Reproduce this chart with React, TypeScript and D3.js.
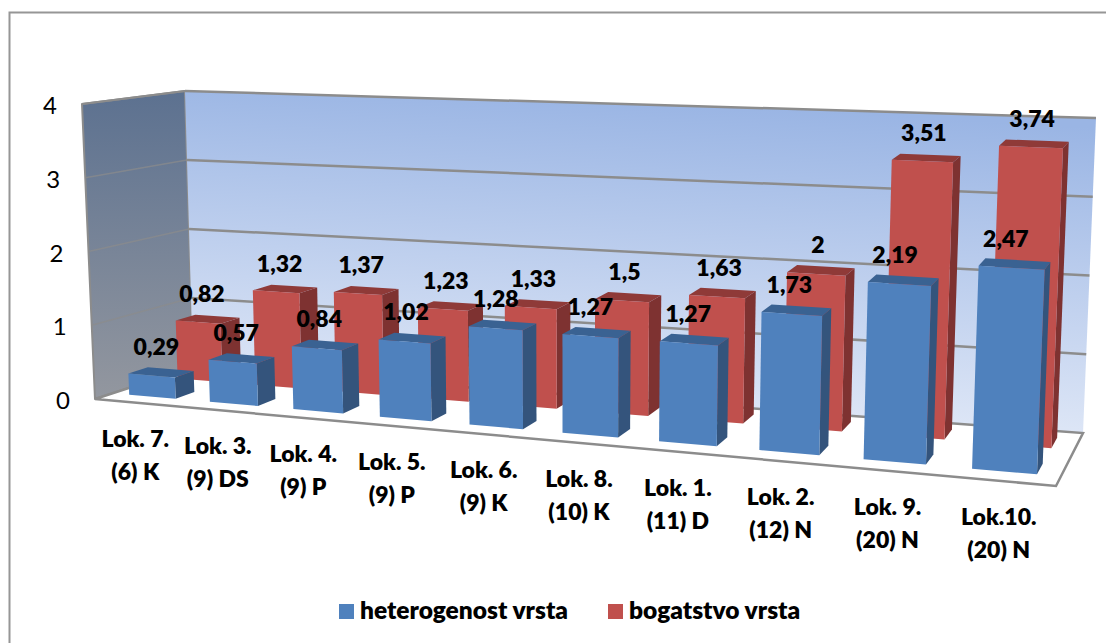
import React from "react";
import * as d3 from "d3";

const categories = ["Lok. 7.", "Lok. 3.", "Lok. 4.", "Lok. 5.", "Lok. 6.", "Lok. 8.", "Lok. 1.", "Lok. 2.", "Lok. 9.", "Lok.10."];
const subLabels = ["(6) K", "(9) DS", "(9) P", "(9) P", "(9) K", "(10) K", "(11) D", "(12) N", "(20) N", "(20) N"];
const heterogenost = [0.29, 0.57, 0.84, 1.02, 1.28, 1.27, 1.27, 1.73, 2.19, 2.47];
const bogatstvo = [0.82, 1.32, 1.37, 1.23, 1.33, 1.5, 1.63, 2, 3.51, 3.74];
const valueTicks = [0, 1, 2, 3, 4];

const BLUE = { front: "#4f81bd", side: "#34547c", top: "#3a6292" };
const RED = { front: "#c0504d", side: "#7e3231", top: "#8f3a38" };
const FONT = "Lato, 'Open Sans', sans-serif";

type Pt = [number, number];

const mix = (a: Pt, b: Pt, t: number): Pt => [a[0] + (b[0] - a[0]) * t, a[1] + (b[1] - a[1]) * t];

// corners of the box as they land on the page
const floorFL: Pt = [95, 399], floorFR: Pt = [1056, 486], floorBR: Pt = [1083, 433], floorBL: Pt = [193, 367];
const ceilFL: Pt = [82, 104], ceilFR: Pt = [1069, 150], ceilBR: Pt = [1096, 118], ceilBL: Pt = [185, 91];

// columns get wider to the right, the view is closer there
const squeeze = 0.83;
const warp = (u: number) => (squeeze * u) / (1 + (squeeze - 1) * u);

const x = d3.scaleBand<number>().domain(d3.range(categories.length)).range([0, 1]).paddingInner(0.42).paddingOuter(0.21);
const y = d3.scaleLinear().domain([0, 4]).range([0, 1]);
// two rows of columns, front one is the blue series
const z = d3.scaleBand<string>().domain(["heterogenost", "bogatstvo"]).range([0.03, 1.03]).paddingInner(0.6).paddingOuter(0.3);

function project(u: number, d: number, val: number): Pt {
  const w = warp(u);
  const a = mix(mix(floorFL, floorFR, w), mix(floorBL, floorBR, w), d);
  const b = mix(mix(ceilFL, ceilFR, w), mix(ceilBL, ceilBR, w), d);
  return mix(a, b, y(val));
}

const poly = (pts: Pt[]) => d3.line()(pts)! + "Z";

function Bar({ i, val, row, c }: { i: number; val: number; row: string; c: typeof BLUE }) {
  const u0 = x(i)!, u1 = u0 + x.bandwidth();
  const d0 = z(row)!, d1 = d0 + z.bandwidth();
  return (
    <g>
      <path d={poly([project(u1, d0, 0), project(u1, d1, 0), project(u1, d1, val), project(u1, d0, val)])} fill={c.side} />
      <path d={poly([project(u0, d0, val), project(u1, d0, val), project(u1, d1, val), project(u0, d1, val)])} fill={c.top} />
      <path d={poly([project(u0, d0, 0), project(u1, d0, 0), project(u1, d0, val), project(u0, d0, val)])} fill={c.front} />
    </g>
  );
}

function BarLabel({ i, val, row }: { i: number; val: number; row: string }) {
  const u = x(i)! + x.bandwidth() / 2;
  const front = row === "heterogenost";
  const [lx, ly] = project(u, z(row)! + z.bandwidth() * (front ? 0.3 : 0.2), val);
  return (
    <text x={lx - (front ? 3 * val : 0)} y={ly - 19} textAnchor="middle" fontFamily={FONT} fontWeight="800" fontSize={23} fill="#000">
      {String(val).replace(".", ",")}
    </text>
  );
}

export default function App() {
  const wallL = [project(0, 0, 0), project(0, 1, 0), project(0, 1, 4), project(0, 0, 4)];
  const wallB = [project(0, 1, 0), project(1, 1, 0), project(1, 1, 4), project(0, 1, 4)];
  const floorPts = [project(0, 0, 0), project(1, 0, 0), project(1, 1, 0), project(0, 1, 0)];
  const idx = d3.range(categories.length);
  return (
    <svg width={1106} height={643} style={{ position: "absolute", left: 0, top: 0, background: "#fff" }}>
      <defs>
        <linearGradient id="back" gradientUnits="userSpaceOnUse" x1={650} y1={100} x2={630} y2={420}>
          <stop offset="0" stopColor="#9ab5e4" />
          <stop offset="1" stopColor="#e0e8f7" />
        </linearGradient>
        <linearGradient id="left" x1="0" y1="0" x2="0" y2="1">
          <stop offset="0" stopColor="#5c7190" />
          <stop offset="1" stopColor="#93979f" />
        </linearGradient>
      </defs>
      <path d="M9.5,643V12.5H1106" fill="none" stroke="#969696" strokeWidth={2} />

      <path d={poly(wallL)} fill="url(#left)" stroke="#8c8c8c" strokeWidth={2} strokeLinejoin="round" />
      <path d={poly(wallB)} fill="url(#back)" />
      <path d={poly(floorPts)} fill="#fff" stroke="#8c8c8c" strokeWidth={2.5} />
      {valueTicks.slice(1).map((t) => (
        <g key={t}>
          <path d={d3.line()([project(0, 0, t), project(0, 1, t)])!} stroke="#8c8c8c" strokeWidth={t === 4 ? 2 : 1.5} opacity={t === 4 ? 1 : 0.7} fill="none" />
          <path d={d3.line()([project(0, 1, t), project(1, 1, t)])!} stroke="#8c8c8c" strokeWidth={2.5} fill="none" />
        </g>
      ))}
      {valueTicks.map((t) => (
        <text key={t} x={project(0, 0, t)[0] - 32} y={project(0, 0, t)[1] + 10} textAnchor="middle" fontFamily={FONT} fontSize={24} fill="#000">
          {t}
        </text>
      ))}

      {idx.map((i) => <Bar key={i} i={i} val={bogatstvo[i]} row="bogatstvo" c={RED} />)}
      {idx.map((i) => <BarLabel key={i} i={i} val={bogatstvo[i]} row="bogatstvo" />)}
      {idx.map((i) => <Bar key={i} i={i} val={heterogenost[i]} row="heterogenost" c={BLUE} />)}
      {idx.map((i) => <BarLabel key={i} i={i} val={heterogenost[i]} row="heterogenost" />)}

      {idx.map((i) => {
        const [cx, cy] = project(x(i)! + x.bandwidth() / 2, 0, 0);
        return (
          <text key={i} textAnchor="middle" fontFamily={FONT} fontWeight="800" fontSize={23} fill="#000">
            <tspan x={cx} y={cy + 44}>{categories[i]}</tspan>
            <tspan x={cx} y={cy + 77}>{subLabels[i]}</tspan>
          </text>
        );
      })}

      <g fontFamily={FONT} fontWeight="800" fontSize={24.5} fill="#000">
        <rect x={339} y={604} width={15} height={15} fill={BLUE.front} />
        <text x={360} y={619}>heterogenost vrsta</text>
        <rect x={608} y={604} width={15} height={15} fill={RED.front} />
        <text x={629} y={619}>bogatstvo vrsta</text>
      </g>
    </svg>
  );
}
